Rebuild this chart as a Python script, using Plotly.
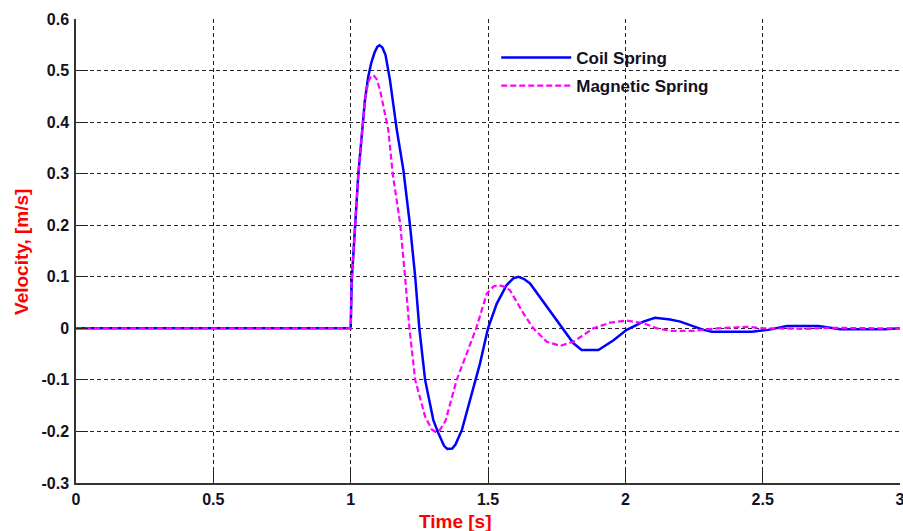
import plotly.graph_objects as go

# Coil spring velocity (blue, solid)
coil_t = [0.0, 1.0, 1.004, 1.010, 1.016, 1.028, 1.040, 1.052, 1.064, 1.075, 1.087, 1.097, 1.105,
          1.115, 1.127, 1.143, 1.168,
          1.192, 1.216, 1.235, 1.250, 1.271, 1.301, 1.319, 1.340, 1.352, 1.370, 1.382, 1.405, 1.435, 1.471,
          1.500, 1.532, 1.568, 1.592, 1.611, 1.630, 1.653, 1.714, 1.769, 1.811, 1.841, 1.902, 1.957, 2.005,
          2.066, 2.108, 2.163, 2.200, 2.285, 2.315, 2.461, 2.520, 2.588, 2.703, 2.782, 2.946, 3.0]
coil_v = [0.0, 0.0, 0.094, 0.152, 0.197, 0.300, 0.365, 0.443, 0.488, 0.515, 0.535, 0.546, 0.549,
          0.545, 0.530, 0.482, 0.385,
          0.307, 0.200, 0.100, 0.0, -0.100, -0.178, -0.203, -0.228, -0.234, -0.233, -0.225, -0.197, -0.139, -0.068,
          0.0, 0.048, 0.084, 0.097, 0.100, 0.096, 0.087, 0.042, 0.0, -0.029, -0.042, -0.042, -0.023, -0.003,
          0.013, 0.0206, 0.017, 0.013, -0.003, -0.0065, -0.0065, -0.003, 0.0045, 0.0045, -0.002, -0.002, 0.0]

# Magnetic spring velocity (magenta, dashed)
mag_t = [0.0, 1.0, 1.004, 1.010, 1.016, 1.028, 1.040, 1.052, 1.064, 1.074, 1.083, 1.094, 1.107, 1.137, 1.153,
         1.180, 1.198, 1.214, 1.235, 1.271, 1.295, 1.310, 1.325, 1.345, 1.386, 1.457, 1.496, 1.520, 1.538, 1.558, 1.580,
         1.629, 1.665, 1.714, 1.763, 1.811, 1.884, 1.945, 2.005, 2.066, 2.115, 2.163, 2.248,
         2.333, 2.442, 2.503, 2.649, 2.758, 2.940, 3.0]
mag_v = [0.0, 0.0, 0.094, 0.152, 0.197, 0.300, 0.365, 0.443, 0.478, 0.489, 0.491, 0.484, 0.462, 0.385, 0.300,
         0.204, 0.100, 0.0, -0.100, -0.171, -0.196, -0.201, -0.197, -0.180, -0.100, 0.0, 0.068, 0.081, 0.084, 0.081, 0.074,
         0.029, 0.0, -0.026, -0.034, -0.026, 0.0, 0.011, 0.015, 0.010, 0.0, -0.005, -0.005,
         0.0, 0.003, 0.0, -0.001, 0.001, 0.0, 0.0]

x_ticks = [0, 0.5, 1, 1.5, 2, 2.5, 3]
x_labels = ["0", "0.5", "1", "1.5", "2", "2.5", "3"]
y_ticks = [-0.3, -0.2, -0.1, 0, 0.1, 0.2, 0.3, 0.4, 0.5, 0.6]
y_labels = ["-0.3", "-0.2", "-0.1", "0", "0.1", "0.2", "0.3", "0.4", "0.5", "0.6"]

FONT = "Liberation Sans, Arial, sans-serif"

fig = go.Figure()
fig.add_trace(go.Scatter(x=coil_t, y=coil_v, mode="lines", name="Coil Spring", legendgroup="a",
                         line=dict(color="#0000FF", width=2.5)))
fig.add_trace(go.Scatter(x=mag_t, y=mag_v, mode="lines", name="Magnetic Spring", legendgroup="b",
                         line=dict(color="#FF00FF", width=2.2, dash="6px,3px")))

axis_common = dict(
    showgrid=True, gridcolor="#222222", gridwidth=1, griddash="4px,3px",
    zeroline=False, showline=True, linecolor="#333333", linewidth=1.5,
    ticks="inside", ticklen=12, tickcolor="#222222", tickwidth=1,
    tickfont=dict(family=FONT, size=16, color="#111122", weight="bold"),
    ticklabeloverflow="allow", automargin=False,
)

fig.update_xaxes(range=[0, 3], tickvals=x_ticks, ticktext=x_labels,
                 ticklabelstandoff=1, **axis_common)
fig.update_yaxes(range=[-0.3, 0.6], tickvals=y_ticks, ticktext=y_labels,
                 ticklabelstandoff=2, **axis_common)

fig.add_annotation(text="<b>Time [s]</b>", xref="paper", yref="paper",
                   x=0.46, y=-0.082, xanchor="center", yanchor="middle", showarrow=False,
                   font=dict(family=FONT, size=19, color="#FF0000"))
fig.add_annotation(text="<b>Velocity, [m/s]</b>", xref="paper", yref="paper",
                   x=-0.0655, y=0.498, xanchor="center", yanchor="middle", showarrow=False,
                   textangle=-90, font=dict(family=FONT, size=19, color="#FF0000"))

fig.update_layout(
    width=903, height=531,
    margin=dict(l=76, r=3, t=19, b=48, autoexpand=False),
    paper_bgcolor="white", plot_bgcolor="white",
    showlegend=True,
    legend=dict(x=0.51, y=0.955, xanchor="left", yanchor="top",
                bgcolor="rgba(0,0,0,0)", borderwidth=0, tracegroupgap=3,
                font=dict(family=FONT, size=17, color="#111122", weight="bold"),
                itemwidth=70),
)

fig.write_html("out.html")
